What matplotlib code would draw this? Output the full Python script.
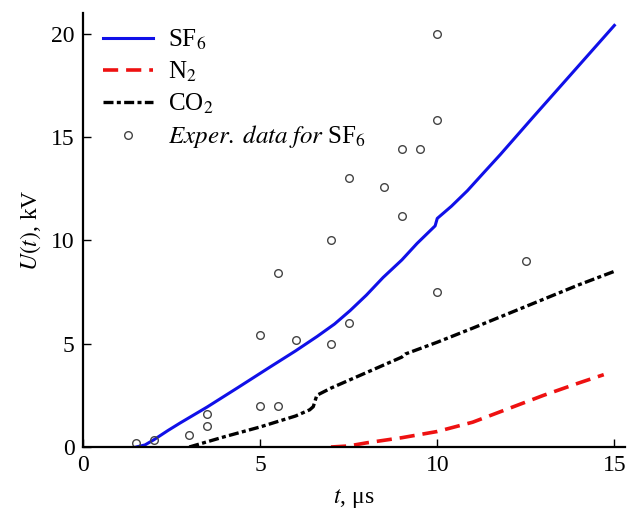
import matplotlib
matplotlib.use("Agg")
import matplotlib.pyplot as plt

plt.rcParams['font.family'] = ['Liberation Serif', 'DejaVu Serif']
plt.rcParams['mathtext.fontset'] = 'stix'

# SF6 model curve
sf6_t = [1.5, 1.75, 2.0, 2.4, 2.74, 3.5, 4.35, 5.28, 6.0, 6.61, 7.1, 7.54, 8.0, 8.47, 9.0, 9.43, 9.94, 10.0, 10.4, 10.85, 11.3, 11.78, 12.7, 13.76, 15.0]
sf6_u = [0.0, 0.1, 0.35, 0.8, 1.16, 1.93, 2.85, 3.87, 4.65, 5.35, 5.95, 6.6, 7.35, 8.2, 9.05, 9.85, 10.7, 11.06, 11.65, 12.4, 13.25, 14.15, 15.95, 18.0, 20.4]

# N2 model curve
n2_t = [7.0, 7.5, 8.0, 9.0, 10.0, 11.0, 12.0, 13.0, 14.0, 14.7]
n2_u = [0.0, 0.05, 0.2, 0.45, 0.75, 1.2, 1.85, 2.5, 3.1, 3.5]

# CO2 model curve
co2_t = [3.0, 3.5, 4.0, 5.0, 6.0, 6.4, 6.5, 6.6, 7.0, 8.0, 9.0, 9.1, 10.0, 11.0, 12.0, 13.0, 14.0, 15.0]
co2_u = [0.0, 0.25, 0.5, 0.97, 1.5, 1.8, 1.95, 2.5, 2.85, 3.6, 4.35, 4.5, 5.07, 5.75, 6.45, 7.15, 7.85, 8.5]

# Experimental data for SF6
exp_t = [1.5, 2.0, 3.0, 3.5, 3.5, 5.0, 5.5, 5.0, 6.0, 7.0, 7.5, 7.0, 5.5, 7.5, 8.5, 9.0, 9.0, 9.5, 10.0, 10.0, 10.0, 12.5]
exp_u = [0.2, 0.35, 0.6, 1.0, 1.6, 2.0, 2.0, 5.4, 5.2, 5.0, 6.0, 10.0, 8.4, 13.0, 12.6, 11.2, 14.4, 14.4, 20.0, 15.8, 7.5, 9.0]

xticks = [0, 5, 10, 15]
yticks = [0, 5, 10, 15, 20]

fig = plt.figure(figsize=(6.29, 5.16), dpi=100)
ax = fig.add_axes([83/629, 69/516, 542/629, 434/516])

ax.plot(sf6_t, sf6_u, color='#1010e8', lw=2.2, label=r'SF$_6$')
ax.plot(n2_t, n2_u, color='#ee1111', lw=2.6, dashes=(4.2, 2.2), label=r'N$_2$')
ax.plot(co2_t, co2_u, color='black', lw=2.4, dashes=(3.0, 1.0, 1.2, 1.0), label=r'CO$_2$')
ax.plot(exp_t, exp_u, 'o', ms=5.5, mfc='none', mec='#444444', mew=1.0,
        label=r'$\it{Exper.\;data\;for}$ SF$_6$')

ax.set_xlim(0, 15.3)
ax.set_ylim(0, 21)
ax.set_xticks(xticks)
ax.set_yticks(yticks)
ax.tick_params(direction='in', length=6, width=1, labelsize=17, pad=6)
for s in ['top', 'right']:
    ax.spines[s].set_visible(False)
for s in ['left', 'bottom']:
    ax.spines[s].set_linewidth(1.6)

ax.set_xlabel(r'$t$, μs', fontsize=17, labelpad=8)
ax.set_ylabel(r'$U(t)$, kV', fontsize=17, labelpad=6)

leg = ax.legend(loc='upper left', bbox_to_anchor=(0.01, 1.0), frameon=False,
                fontsize=18, handlelength=2.0, handletextpad=0.6,
                labelspacing=0.3, borderaxespad=0.2)

fig.savefig('out.png', dpi=100)
